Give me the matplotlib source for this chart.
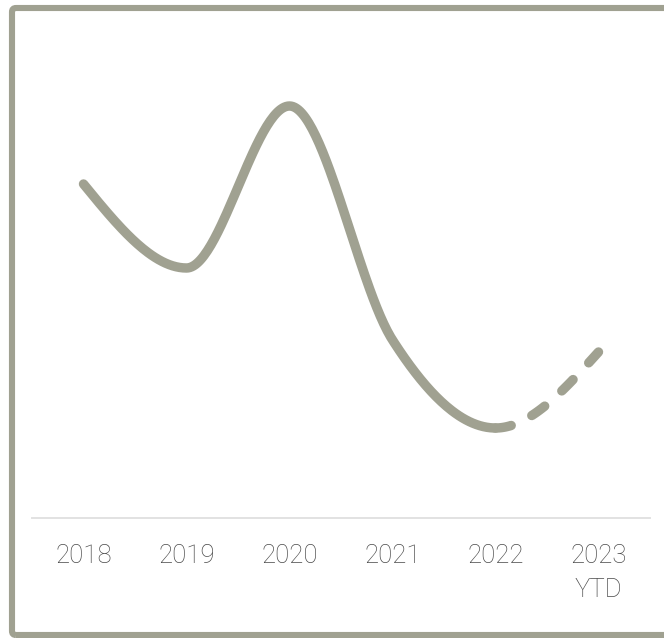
import numpy as np
import matplotlib
matplotlib.use("Agg")
import matplotlib.pyplot as plt
from matplotlib.patches import FancyBboxPatch
from matplotlib.transforms import IdentityTransform

# ---- data ----
categories = ["2018", "2019", "2020", "2021", "2022", "2023\nYTD"]
values = [83.5, 62.5, 103.0, 44.5, 22.5, 41.5]
n_solid = 5  # 2018..2022 solid, 2022..2023 YTD dashed

LINE_COLOR = "#a0a191"
FRAME_COLOR = "#a0a191"
BASE_COLOR = "#e2e2e2"
TEXT_COLOR = "#4a4a4a"

plt.rcParams["lines.scale_dashes"] = False


def monotone_x(xs, ys, steps=60):
    """d3 curveMonotoneX style interpolation."""
    xs = np.asarray(xs, float)
    ys = np.asarray(ys, float)
    n = len(xs)
    h = np.diff(xs)
    s = np.diff(ys) / h
    t = np.zeros(n)
    for i in range(1, n - 1):
        s0, s1 = s[i - 1], s[i]
        p = (s0 * h[i] + s1 * h[i - 1]) / (h[i - 1] + h[i])
        t[i] = (np.sign(s0) + np.sign(s1)) * min(abs(s0), abs(s1), 0.5 * abs(p))
    t[0] = (3 * s[0] - t[1]) / 2 if n > 2 else s[0]
    t[-1] = (3 * s[-1] - t[-2]) / 2 if n > 2 else s[-1]
    segs = []
    for i in range(n - 1):
        u = np.linspace(0, 1, steps)
        h00 = 2 * u**3 - 3 * u**2 + 1
        h10 = u**3 - 2 * u**2 + u
        h01 = -2 * u**3 + 3 * u**2
        h11 = u**3 - u**2
        xx = xs[i] + u * h[i]
        yy = h00 * ys[i] + h10 * h[i] * t[i] + h01 * ys[i + 1] + h11 * h[i] * t[i + 1]
        segs.append((xx, yy))
    return segs


W, H = 664, 638
fig = plt.figure(figsize=(W / 100, H / 100), dpi=100)
fig.patch.set_facecolor("white")

ax_left, ax_right = 32, 650
ax_top, ax_bottom = 20, 518
ax = fig.add_axes([ax_left / W, (H - ax_bottom) / H,
                   (ax_right - ax_left) / W, (ax_bottom - ax_top) / H])
ax.set_facecolor("none")

x = np.arange(len(categories))
segs = monotone_x(x, values)

sx = np.concatenate([segs[i][0] for i in range(n_solid - 1)])
sy = np.concatenate([segs[i][1] for i in range(n_solid - 1)])
dx = np.concatenate([segs[i][0] for i in range(n_solid - 1, len(segs))])
dy = np.concatenate([segs[i][1] for i in range(n_solid - 1, len(segs))])

lw = 6.8
ax.plot(sx, sy, color=LINE_COLOR, lw=lw, solid_capstyle="round",
        solid_joinstyle="round", zorder=3)
ax.plot(dx, dy, color=LINE_COLOR, lw=lw, linestyle=(0, (11.5, 16.5)),
        dash_capstyle="round", zorder=3)

ax.set_xlim(-0.5, len(categories) - 0.5)
ax.set_ylim(0, 124.5)

for sp in ["top", "right", "left"]:
    ax.spines[sp].set_visible(False)
ax.spines["bottom"].set_color(BASE_COLOR)
ax.spines["bottom"].set_linewidth(1.4)

ax.set_yticks([])
ax.set_xticks(x)
ax.set_xticklabels(categories, fontsize=18.5, color=TEXT_COLOR,
                   family=["Roboto", "DejaVu Sans"], fontweight="light",
                   linespacing=1.5)
ax.tick_params(axis="x", length=0, pad=19)

frame = FancyBboxPatch((12, 3), 720, 627,
                       boxstyle="round,pad=0,rounding_size=4",
                       transform=IdentityTransform(),
                       facecolor="none", edgecolor=FRAME_COLOR,
                       linewidth=4.4, clip_on=False, zorder=10)
fig.patches.append(frame)

fig.savefig("out.png", dpi=100, facecolor="white")
